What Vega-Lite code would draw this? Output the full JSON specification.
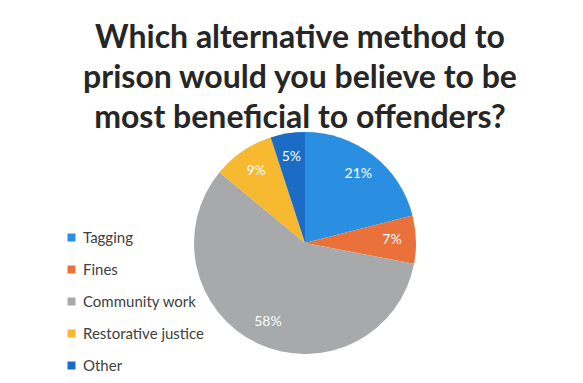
{
  "$schema": "https://vega.github.io/schema/vega-lite/v6.json",
  "autosize": "none",
  "width": 410,
  "height": 230,
  "padding": {"left": 100, "top": 128, "right": 73, "bottom": 25},
  "background": "white",
  "config": {"view": {"stroke": null}},
  "title": {
    "text": ["Which alternative method to", "prison would you believe to be", "most beneficial to offenders?"],
    "font": "Lato",
    "fontSize": 32,
    "fontWeight": "bold",
    "color": "#262626",
    "lineHeight": 40,
    "anchor": "middle",
    "dx": -5,
    "offset": -7
  },
  "data": {
    "values": [
      {"method": "Tagging", "pct": 21, "label": "21%", "idx": 1},
      {"method": "Fines", "pct": 7, "label": "7%", "idx": 2},
      {"method": "Community work", "pct": 58, "label": "58%", "idx": 3},
      {"method": "Restorative justice", "pct": 9, "label": "9%", "idx": 4},
      {"method": "Other", "pct": 5, "label": "5%", "idx": 5}
    ]
  },
  "encoding": {
    "theta": {"field": "pct", "type": "quantitative", "stack": true},
    "order": {"field": "idx", "type": "quantitative"},
    "color": {
      "field": "method",
      "type": "nominal",
      "scale": {
        "domain": ["Tagging", "Fines", "Community work", "Restorative justice", "Other"],
        "range": ["#2a8fe0", "#ea7139", "#a7a9ab", "#f7b92f", "#1a6cc4"]
      },
      "legend": {
        "title": null,
        "orient": "none",
        "legendX": -36,
        "legendY": 102,
        "symbolType": "square",
        "symbolSize": 64,
        "symbolStrokeWidth": 0,
        "labelFont": "Lato",
        "labelFontSize": 15,
        "labelColor": "#404040",
        "rowPadding": 16,
        "labelOffset": 4
      }
    }
  },
  "layer": [
    {"mark": {"type": "arc", "outerRadius": 111}},
    {
      "mark": {"type": "text", "radius": 87, "font": "Lato", "fontSize": 14, "color": "white"},
      "encoding": {"text": {"field": "label", "type": "nominal"}, "color": {"value": "white"}}
    }
  ]
}
